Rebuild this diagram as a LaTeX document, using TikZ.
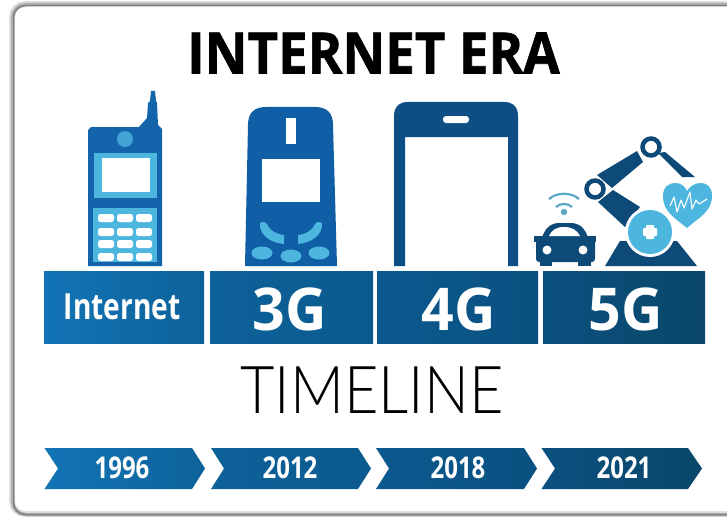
\documentclass[tikz,border=0pt]{standalone}
\usepackage{fontspec}
\setmainfont{Open Sans}
\newfontfamily\thinfont{Lato}[UprightFont=* Light]
\newfontfamily\heavyfont{Open Sans}[UprightFont=* Bold,UprightFeatures={FakeBold=1.2}]
\definecolor{ph1}{HTML}{1464AC}
\definecolor{ph2}{HTML}{0F5EA6}
\definecolor{ph3}{HTML}{0D4F85}
\definecolor{rob}{HTML}{0E4A78}
\definecolor{sky}{HTML}{4DB6DF}
\definecolor{barA}{HTML}{1274B6}
\definecolor{barB}{HTML}{0D6299}
\definecolor{barC}{HTML}{0B5A8F}
\definecolor{barD}{HTML}{0A5080}
\definecolor{barF}{HTML}{0A4769}
\tikzset{
  x=1pt,y=-1pt,
  barbox/.style={inner sep=0pt,text=white,font=\bfseries\fontsize{59}{59}\selectfont,xscale=.97},
  yearlabel/.style={text=white,inner sep=0pt,font=\bfseries\fontsize{30}{30}\selectfont,xscale=.8},
  softkey/.style={fill=sky},
  keycap/.style={fill=white,rounded corners=2.5pt},
}
\newcommand{\chevron}[6]{% x0 notch shoulder tip col col
  \shade[left color=#5,right color=#6] (#1,448)--(#3,448)--(#4,468.5)--(#3,489)--(#1,489)--(#2,468.5)--cycle;}
\begin{document}
\begin{tikzpicture}
\useasboundingbox (0,0) rectangle (727,516);
\fill[white] (0,0) rectangle (727,516);
% card with soft edge
\draw[black!12,line width=6pt,rounded corners=13pt] (760,4)--(12,4)--(12,514)--(760,514);
\draw[black!30,line width=3.5pt,rounded corners=13pt] (760,4.5)--(12.5,4.5)--(12.5,514.5)--(760,514.5);
\draw[black!50,line width=1.5pt,rounded corners=12pt] (760,5.5)--(13.5,5.5)--(13.5,514.5)--(760,514.5);
% title
\node[inner sep=0pt,font=\heavyfont\fontsize{57}{57}\selectfont,xscale=.925] (title) at (373.5,53) {INTERNET ERA};
\node[inner sep=0pt,font=\thinfont\fontsize{66}{66}\selectfont,xscale=.9] (timeline) at (372,390) {TIMELINE};
% bars
\shade[left color=barA,right color=barB] (44,271) rectangle (204,343);
\shade[left color=barB,right color=barC] (210,271) rectangle (373,343);
\shade[left color=barC,right color=barD] (377,271) rectangle (538,343);
\shade[left color=barD,right color=barF] (543,271) rectangle (705,343);
\node[text=white,inner sep=0pt,font=\bfseries\fontsize{36}{36}\selectfont,xscale=.78] (b1) at (122,307) {Internet};
\node[barbox] (b2) at (290,309) {3G};
\node[barbox] (b3) at (458.5,309) {4G};
\node[barbox] (b4) at (625.5,309) {5G};
% chevrons
\chevron{44.5}{58}{192}{205}{barA}{barB}
\chevron{211}{224}{358}{371}{barB}{barC}
\chevron{376}{389}{524}{537}{barC}{barD}
\chevron{541.5}{555}{688}{702}{barD}{barF}
\node[yearlabel] (y1) at (122,468) {1996};
\node[yearlabel] (y2) at (290,468) {2012};
\node[yearlabel] (y3) at (458,468) {2018};
\node[yearlabel] (y4) at (624,468) {2021};
% phone 1
\fill[ph1] (88,266)--(88,130)--(91,127)--(139,127)--(147,118)--(148,103)--(150,101)--(151,91)--(155,91)--(156,101)--(157,103)--(158,125)--(162,129)--(162,266)--cycle;
\fill[sky!80!ph1] (125,139) circle (8);
\fill[sky] (94,153) rectangle (157,198);
\fill[white] (102,158) rectangle (150,192);
\fill[sky] (93,208) rectangle (157,262);
\foreach \kx in {106,125,144}\foreach \ky in {218,232,244,257}
  \fill[keycap] (\kx-8,\ky-4) rectangle (\kx+8,\ky+4);
% phone 2
\fill[ph2] (245,266)--(248,125) .. controls (248,113) and (254,107) .. (266,107)--(315,107) .. controls (327,107) and (333,113) .. (333,125)--(337,266)--cycle;
\fill[white] (286,118) rectangle (296,144);
\fill[white] (262,159) rectangle (320,202);
\fill[softkey] (260,223) .. controls (264,221) and (266,222) .. (267,224) .. controls (270,231) and (276,234) .. (284,235) -- (284,244) .. controls (272,243) and (259,236) .. (260,223) -- cycle;
\fill[softkey] (322,223) .. controls (318,221) and (316,222) .. (315,224) .. controls (312,231) and (306,234) .. (298,235) -- (298,244) .. controls (310,243) and (323,236) .. (322,223) -- cycle;
\fill[softkey] (262,253) ellipse (10.5 and 6.5);
\fill[softkey] (291,256) ellipse (10.5 and 6.5);
\fill[softkey] (319,253) ellipse (10.5 and 6.5);
% phone 3
\fill[ph3] (394,266)--(394,116) .. controls (394,107) and (399,102) .. (408,102)--(504,102) .. controls (513,102) and (518,107) .. (518,116)--(518,266)--(508,266)--(508,137)--(405,137)--(405,266)--cycle;
\fill[white,rounded corners=3pt] (443,116) rectangle (469,123);
% wifi
\fill[sky!75!gray] (564,212) circle (3.2);
\draw[sky!75!gray,line width=2.2pt] (556,207) .. controls (560,203) and (568,203) .. (572,207);
\draw[sky!75!gray,line width=2.2pt] (549,199) .. controls (557,192) and (571,192) .. (579,199);
% car
\fill[rob] (541,240) .. controls (545,228) and (550,223) .. (560,223) -- (570,223) .. controls (580,223) and (585,228) .. (589,240) -- cycle;
\fill[rob] (534,236) rectangle (596,242);
\fill[rob,rounded corners=3pt] (536,238) rectangle (595,262);
\fill[rob] (540,255) rectangle (552,266);
\fill[rob] (578,255) rectangle (591,266);
\fill[white] (549,236) .. controls (552,230) and (556,227) .. (564,227) .. controls (572,227) and (577,230) .. (580,236) -- cycle;
\fill[white] (547,250) circle (4.5);
\fill[white] (583,250) circle (4.5);
% robot
\fill[rob] (597,175)--(637,151)--(643,162)--(612,188)--cycle;
\fill[rob] (613,190)--(640,207)--(625,227)--(598,202)--cycle;
\fill[rob] (658,153)--(665,152)--(695,177)--(682,177)--cycle;
\fill[rob] (620,241)--(677,241)--(697,266)--(605,266)--cycle;
\draw[rob,line width=4.5pt,fill=white] (595,189) circle (8.5);
\draw[rob,line width=4.5pt,fill=white] (651,147) circle (8.5);
\fill[white] (650,232) circle (25);
\fill[sky] (650,232) circle (22);
\fill[white,rounded corners=1pt] (646,225) rectangle (654,239);
\fill[white,rounded corners=1pt] (643,228) rectangle (657,236);
% heart
\fill[sky] (687,228) .. controls (675,218) and (663,212) .. (663,196) .. controls (663,186) and (670,183) .. (675,183) .. controls (681,183) and (685,186) .. (687,191) .. controls (690,186) and (695,183) .. (701,183) .. controls (707,183) and (712,187) .. (712,196) .. controls (712,212) and (698,218) .. (687,228) -- cycle;
\draw[white,line width=1.1pt,line join=round] (670,206)--(674,197)--(677,212)--(681,200)--(684,208)--(690,192)--(692,209)--(696,200)--(699,204)--(707,199);
\end{tikzpicture}
\end{document}
